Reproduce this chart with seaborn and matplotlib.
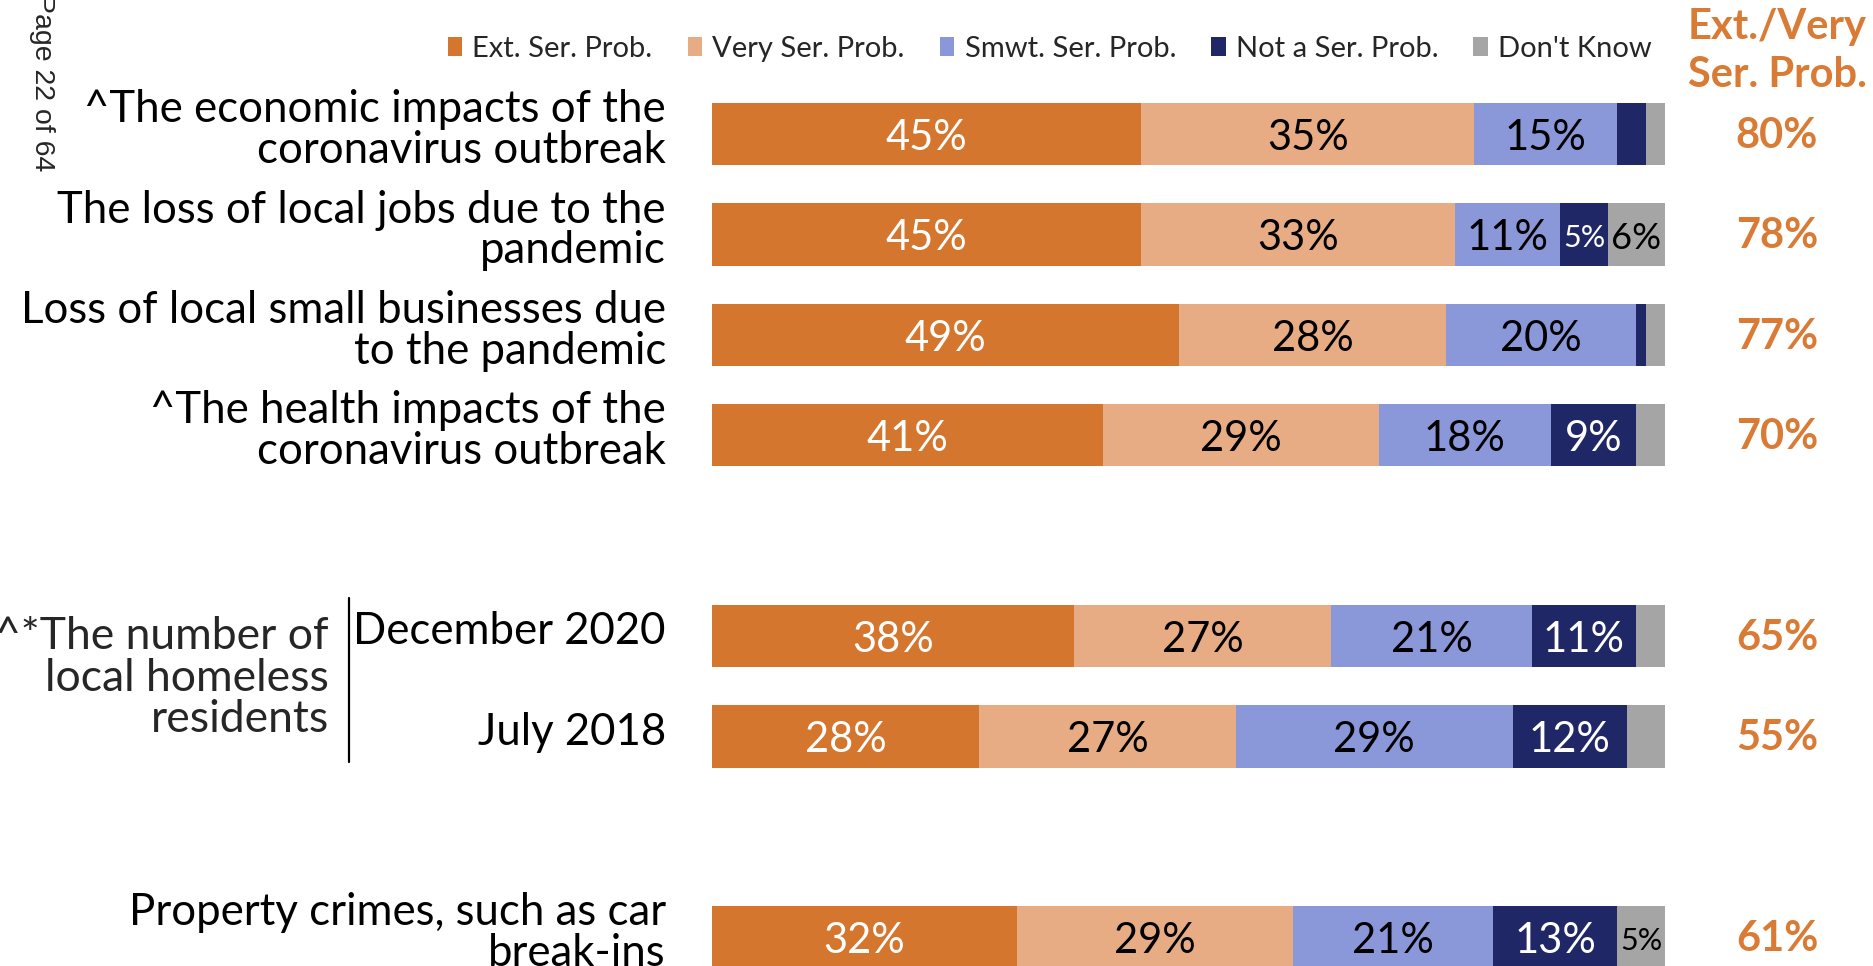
import numpy as np
import pandas as pd
import matplotlib
matplotlib.use("Agg")
import matplotlib.pyplot as plt
import matplotlib.transforms as mtransforms
from matplotlib.patches import Patch
from matplotlib.lines import Line2D
import seaborn as sns

# ---------------- data ----------------
categories = [
    "^The economic impacts of the\ncoronavirus outbreak",
    "The loss of local jobs due to the\npandemic",
    "Loss of local small businesses due\nto the pandemic",
    "^The health impacts of the\ncoronavirus outbreak",
    "December 2020",
    "July 2018",
    "Property crimes, such as car\nbreak-ins",
]
group_label = "^*The number of\nlocal homeless\nresidents"
series_names = ["Ext. Ser. Prob.", "Very Ser. Prob.", "Smwt. Ser. Prob.",
                "Not a Ser. Prob.", "Don't Know"]
ext_ser = [45, 45, 49, 41, 38, 28, 32]
very_ser = [35, 33, 28, 29, 27, 27, 29]
smwt_ser = [15, 11, 20, 18, 21, 29, 21]
not_ser = [3, 5, 1, 9, 11, 12, 13]
dont_know = [2, 6, 2, 3, 3, 4, 5]
ext_very = [80, 78, 77, 70, 65, 55, 61]
ext_very_title = "Ext./Very\nSer. Prob."
page_text = "Page 22 of 64"

# ---------------- style ----------------
colors = ["#D5762F", "#E8AC84", "#8A97D9", "#1F2766", "#A5A5A5"]
label_colors = ["white", "black", "black", "white", "black"]
orange = "#D97B35"
min_shown = 5

sns.set_theme(style="white")
plt.rcParams['font.family'] = ['Lato', 'DejaVu Sans']

slots = categories[:4] + ["_gap1"] + categories[4:6] + ["_gap2"] + categories[6:]
pos = {c: i for i, c in enumerate(slots)}

values = np.array([ext_ser, very_ser, smwt_ser, not_ser, dont_know])
cum = values.cumsum(axis=0)

W, H = 1874, 966
fig = plt.figure(figsize=(W / 100, H / 100), dpi=100)
ax = fig.add_axes([712 / W, 0, 953 / W, 1])

for i in reversed(range(len(series_names))):
    d = pd.DataFrame({"category": categories, "value": cum[i]})
    sns.barplot(data=d, x="value", y="category", order=slots, orient="h",
                color=colors[i], saturation=1, width=0.62, errorbar=None,
                linewidth=0, ax=ax)

ax.set_xlim(0, 100)
ax.set_ylim(8.287, -1.335)
for s in ax.spines.values():
    s.set_visible(False)
ax.set_xticks([])
ax.set_yticks([])
ax.set_xlabel("")
ax.set_ylabel("")

tr = mtransforms.blended_transform_factory(fig.transFigure, ax.transData)

# category labels
for cat in categories:
    ax.text(666 / W, pos[cat] - 0.04, cat, transform=tr, ha="right", va="center",
            fontsize=31.5, linespacing=0.99, color="black")

# segment labels
for i in range(len(series_names)):
    for j, cat in enumerate(categories):
        v = values[i, j]
        if v >= min_shown:
            fs = 22 if v <= 5 else (26 if v <= 6 else 30)
            ax.text(cum[i, j] - v / 2, pos[cat] + 0.04, f"{v}%", ha="center",
                    va="center", color=label_colors[i], fontsize=fs)

# right-hand column
for j, cat in enumerate(categories):
    ax.text(1777 / W, pos[cat] + 0.02, f"{ext_very[j]}%", transform=tr,
            ha="center", va="center", color=orange, fontsize=30,
            fontweight="bold")
fig.text(1777 / W, 1 - 51 / H, ext_very_title, ha="center", va="center",
         color=orange, fontsize=30, fontweight="bold", linespacing=1.32)

# group label and bracket line
g_y = (pos[categories[4]] + pos[categories[5]]) / 2 - 0.08
ax.text(329 / W, g_y, group_label, transform=tr, ha="right", va="center",
        fontsize=32, linespacing=1.02)
fig.add_artist(Line2D([349 / W, 349 / W], [1 - 598 / H, 1 - 762 / H],
                      transform=fig.transFigure, color="black", lw=1.6))

# legend
handles = [Patch(facecolor=c, edgecolor="none") for c in colors]
fig.legend(handles, series_names, ncol=5, loc="center right",
           bbox_to_anchor=(1652 / W, 1 - 49 / H), frameon=False, fontsize=21,
           handlelength=0.5, handleheight=0.6, handletextpad=0.35,
           columnspacing=1.2, borderaxespad=0, borderpad=0)

# page number
fig.text(42 / W, 1.006, page_text, rotation=270, ha="center", va="top",
         fontsize=20.5, family=["Liberation Sans", "DejaVu Sans"])

fig.savefig("out.png", dpi=100)
